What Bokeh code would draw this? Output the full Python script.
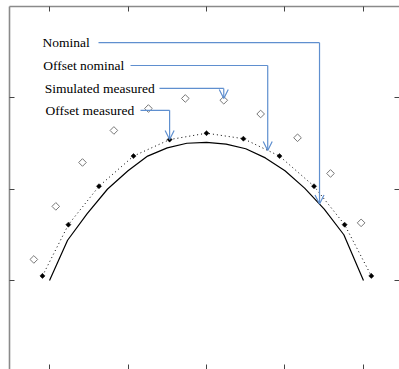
from bokeh.plotting import figure
from bokeh.models import Range1d, LinearAxis, FixedTicker, Arrow, OpenHead
from bokeh.core.properties import value
from bokeh.embed import file_html
from bokeh.resources import INLINE
import numpy as np

# ---- data ----
nominal_x = [-2.0, -1.77, -1.52, -1.26, -1.0, -0.75, -0.5, -0.25, 0.0, 0.25, 0.5, 0.75, 1.0, 1.25, 1.5, 1.75, 2.0]
nominal_y = [0.0, 0.44, 0.73, 1.00, 1.20, 1.36, 1.45, 1.50, 1.51, 1.49, 1.44, 1.34, 1.20, 1.01, 0.78, 0.50, 0.0]

offset_nominal_x = [-2.09, -1.76, -1.37, -0.93, -0.47, 0.0, 0.47, 0.93, 1.37, 1.76, 2.10]
offset_nominal_y = [0.05, 0.61, 1.03, 1.36, 1.54, 1.61, 1.55, 1.36, 1.03, 0.61, 0.05]

offset_measured_x = [-2.09, -1.76, -1.37, -0.93, -0.47, 0.0, 0.47, 0.93, 1.37, 1.76, 2.10]
offset_measured_y = [0.05, 0.61, 1.03, 1.36, 1.54, 1.61, 1.55, 1.36, 1.03, 0.61, 0.05]

sim_measured_x = [-2.20, -1.92, -1.58, -1.18, -0.74, -0.27, 0.22, 0.69, 1.16, 1.58, 1.97]
sim_measured_y = [0.23, 0.81, 1.29, 1.64, 1.88, 1.99, 1.97, 1.82, 1.56, 1.17, 0.63]

x_ticks = [-2, -1, 0, 1, 2]
y_ticks = [0, 1, 2]

labels = ["Nominal", "Offset nominal", "Simulated measured", "Offset measured"]

# ---- figure ----
p = figure(width=399, height=369, x_range=Range1d(-2.51, 2.459), y_range=Range1d(-0.973, 2.995),
           output_backend="svg", toolbar_location=None, x_axis_location="above",
           min_border=0, min_border_left=9, min_border_top=6)
p.outline_line_color = None
p.grid.visible = False
p.background_fill_color = "white"

p.add_layout(LinearAxis(), "below")
p.add_layout(LinearAxis(), "right")

for ax in p.xaxis:
    ax.ticker = FixedTicker(ticks=x_ticks)
for ax in p.yaxis:
    ax.ticker = FixedTicker(ticks=y_ticks)
for ax in p.axis:
    ax.major_label_text_font_size = "0px"
    ax.major_label_text_color = None
    ax.major_label_standoff = 0
    ax.major_tick_in = 5
    ax.major_tick_out = 0
    ax.minor_tick_line_color = None
    ax.major_tick_line_color = "#444444"
    ax.major_tick_line_width = 1
    ax.axis_line_color = "#8a8a8a"
    ax.axis_line_width = 1.6
p.below[0].axis_line_color = None
p.right[0].axis_line_color = None

# ---- series ----
p.line(nominal_x, nominal_y, line_color="black", line_width=1.2)
p.line(offset_nominal_x, offset_nominal_y, line_color="black", line_width=1, line_dash="1 3")
p.scatter(offset_measured_x, offset_measured_y, marker="square", angle=np.pi / 4, size=3.6,
          fill_color="black", line_color="black", line_width=0.5)
p.scatter(sim_measured_x, sim_measured_y, marker="square", angle=np.pi / 4, size=5.4,
          fill_color="white", line_color="#777777", line_width=1)

# ---- annotations ----
lead = "#5f8fcf"
label_x = [-2.09, -2.08, -2.06, -2.05]
label_y = [2.60, 2.35, 2.10, 1.86]
lead_start = [-1.376, -0.968, -0.599, -0.841]
corner_x = [1.44, 0.78, sim_measured_x[6], offset_measured_x[4]]
tip_y = [float(np.interp(1.44, nominal_x, nominal_y)),
         float(np.interp(0.78, offset_nominal_x, offset_nominal_y)),
         sim_measured_y[6] + 0.02,
         offset_measured_y[4]]

p.text(x=label_x, y=label_y, text=labels, text_font=value("Liberation Serif"),
       text_font_size="13.5px", text_color="black", text_baseline="middle", text_align="left")
p.segment(x0=lead_start, y0=label_y, x1=corner_x, y1=label_y, line_color=lead, line_width=1.2)
for cx, ly, ty in zip(corner_x, label_y, tip_y):
    p.add_layout(Arrow(end=OpenHead(size=9, line_color=lead, line_width=1.2),
                       x_start=cx, y_start=ly, x_end=cx, y_end=ty,
                       line_color=lead, line_width=1.2))

open("out.html", "w").write(file_html(p, INLINE))
